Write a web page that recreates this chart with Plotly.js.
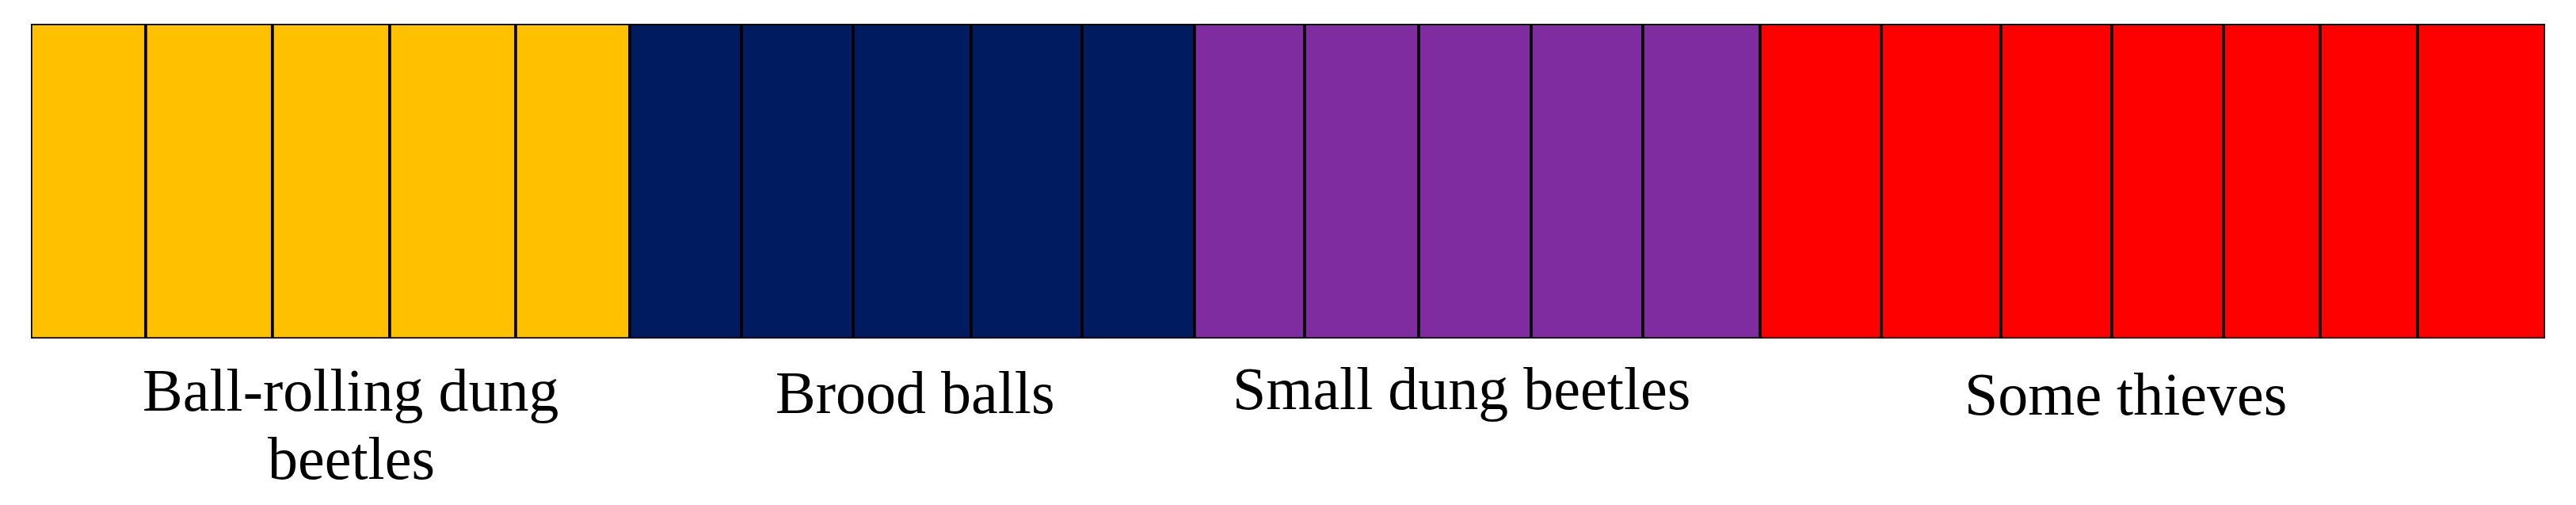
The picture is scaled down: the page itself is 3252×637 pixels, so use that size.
<!DOCTYPE html>
<html>
<head>
<meta charset="utf-8">
<script src="https://cdn.plot.ly/plotly-3.0.1.min.js"></script>
<style>html,body{margin:0;padding:0;background:#fff;}#chart{width:3252px;height:637px;}</style>
</head>
<body>
<div id="chart"></div>
<script>
// Group names (labels under the bar)
const groups = ["Ball-rolling dung beetles", "Brood balls", "Small dung beetles", "Some thieves"];
// Cell widths of each group
const ballRolling = [145, 160, 148, 159, 144];
const broodBalls = [141, 141, 149, 140, 142];
const smallBeetles = [139, 144, 142, 141, 148];
const thieves = [153, 151, 140, 141, 122, 123, 161];
const colors = ["#FFC000", "#001B60", "#7F2CA0", "#FF0000"];
// Label lines and centre positions (in bar units)
const labelLines = [["Ball-rolling dung", "beetles"], ["Brood balls"], ["Small dung beetles"], ["Some thieves"]];
const labelX = [404, 1116, 1806, 2644];
const labelBaselinePx = [515, 518, 513, 520];

const series = [ballRolling, broodBalls, smallBeetles, thieves];
let start = 0;
const traces = series.map((vals, i) => {
  const base = [];
  vals.forEach(v => { base.push(start); start += v; });
  return {
    type: "bar", orientation: "h",
    name: groups[i],
    x: vals, base: base, y: vals.map(() => 0),
    width: 1,
    marker: {color: colors[i], line: {color: "#000", width: 3.5}},
    cliponaxis: false, hoverinfo: "skip", showlegend: false
  };
});
const total = start;

const W = 3252, H = 637, mT = 30, mB = 210;
const plotH = H - mT - mB;
const fontSize = 76;
const annotations = [];
labelLines.forEach((lines, i) => {
  lines.forEach((ln, j) => {
    const baseline = labelBaselinePx[i] + j * 86;
    const mid = baseline - 0.3 * fontSize;
    annotations.push({
      text: ln, x: labelX[i], xref: "x", y: (H - mB - mid) / plotH, yref: "paper",
      xanchor: "center", yanchor: "middle", showarrow: false,
      font: {family: "Liberation Serif, Times New Roman, serif", size: fontSize, color: "#000"}
    });
  });
});

const layout = {
  width: W, height: H,
  margin: {l: 39, r: 39, t: mT, b: mB, pad: 0},
  paper_bgcolor: "#fff", plot_bgcolor: "#fff",
  barmode: "overlay", bargap: 0,
  xaxis: {range: [0, total], visible: false, fixedrange: true},
  yaxis: {range: [-0.5, 0.5], visible: false, fixedrange: true},
  annotations: annotations
};
Plotly.newPlot("chart", traces, layout, {staticPlot: true, displayModeBar: false});
</script>
</body>
</html>
